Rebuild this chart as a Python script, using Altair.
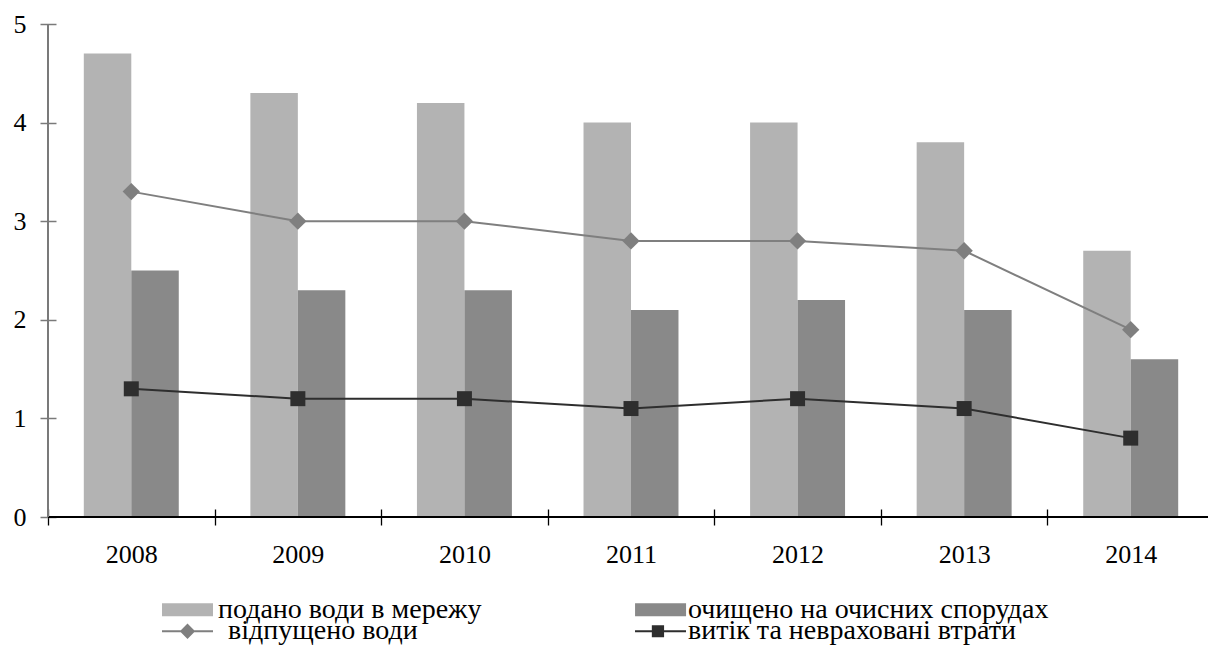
import altair as alt
import pandas as pd

years = ["2008", "2009", "2010", "2011", "2012", "2013", "2014"]

supplied = [4.7, 4.3, 4.2, 4.0, 4.0, 3.8, 2.7]
treated = [2.5, 2.3, 2.3, 2.1, 2.2, 2.1, 1.6]
released = [3.3, 3.0, 3.0, 2.8, 2.8, 2.7, 1.9]
losses = [1.3, 1.2, 1.2, 1.1, 1.2, 1.1, 0.8]

S_SUPPLIED = "подано води в мережу"
S_TREATED = "очищено на очисних спорудах"
S_RELEASED = "відпущено води"
S_LOSSES = "витік та невраховані втрати"

C_SUPPLIED = "#b3b3b3"
C_TREATED = "#898989"
C_RELEASED = "#7f7f7f"
C_LOSSES = "#2e2e2e"

bar_series = [S_SUPPLIED, S_TREATED]
line_series = [S_RELEASED, S_LOSSES]

rows = []
for name, vals in [(S_SUPPLIED, supplied), (S_TREATED, treated),
                   (S_RELEASED, released), (S_LOSSES, losses)]:
    for y, v in zip(years, vals):
        rows.append({"year": y, "series": name, "value": v})
df = pd.DataFrame(rows)

FONT = "Liberation Serif, Times New Roman, serif"
W, H = 1160, 493
STEP_RANGE = 1166

x_scale = alt.Scale(domain=years, range=[0, STEP_RANGE], paddingInner=0, paddingOuter=0)
y_scale = alt.Scale(domain=[0, 5], nice=False)

x_axis = alt.Axis(title=None, labelAngle=0, tickBand="extent", domain=False,
                  offset=-8, tickSize=16, tickColor="#000000", tickWidth=1.3,
                  labelFont=FONT, labelFontSize=26, labelColor="#000000",
                  labelPadding=16, grid=False)
y_axis = alt.Axis(title=None, values=[0, 1, 2, 3, 4, 5], format="d", domain=False,
                  offset=-8, tickSize=16, tickColor="#7a7a7a", tickWidth=1.5,
                  labelFont=FONT, labelFontSize=26, labelColor="#000000",
                  labelPadding=14, grid=False)

LEGEND_X = 114
legend_common = dict(
    title=None, orient="none", direction="horizontal", legendX=LEGEND_X,
    symbolSize=2601, labelLimit=0, symbolStrokeWidth=0,
    labelFont=FONT, labelFontSize=28, labelColor="#000000",
)

# first legend row: wide swatches for the bar series
bar_shape_expr = ("datum.index == 0 ? 'M-1,-0.255H1V0.255H-1Z' : "
                  "'M-0.88,-0.255H1.12V0.255H-0.88Z'")
bar_legend = alt.Legend(
    legendY=560, columnPadding=150, labelOffset=5,
    symbolType=alt.ExprRef(expr=bar_shape_expr),
    **legend_common,
)

# second legend row: line segment with its marker for the line series
line_shape_expr = ("datum.index == 0 ? 'M-1,-0.04H1V0.04H-1ZM-0.3,0L0,-0.3L0.3,0L0,0.3Z' : "
                   "'M-0.49,-0.04H1.51V0.04H-0.49ZM0.17,-0.24H0.65V0.24H0.17Z'")
line_legend = alt.Legend(
    legendY=581.5, columnPadding=204, labelOffset=15,
    symbolType=alt.ExprRef(expr=line_shape_expr),
    **legend_common,
)

xs = alt.X("year:N", scale=x_scale, axis=x_axis, sort=years)
ys = alt.Y("value:Q", scale=y_scale, axis=y_axis)

bars = alt.Chart(df).transform_filter(
    alt.FieldOneOfPredicate(field="series", oneOf=bar_series)
).mark_bar().encode(
    x=xs,
    xOffset=alt.XOffset("series:N", sort=bar_series,
                        scale=alt.Scale(domain=bar_series, paddingInner=0, paddingOuter=0.754)),
    y=ys,
    fill=alt.Fill("series:N", scale=alt.Scale(domain=bar_series, range=[C_SUPPLIED, C_TREATED]),
                  legend=bar_legend),
)

# legend carrier for the line series: draws no marks itself
line_legend_layer = alt.Chart(df).transform_filter("false").mark_point(
    filled=True, opacity=1).encode(
    x=xs, y=ys,
    color=alt.Color("series:N", scale=alt.Scale(domain=line_series, range=[C_RELEASED, C_LOSSES]),
                    legend=line_legend),
)

y_line = alt.Chart(df).mark_rule(color="#7a7a7a", strokeWidth=1.6).encode(x=alt.value(0))
x_line = alt.Chart(df).mark_rule(color="#000000", strokeWidth=1.3).encode(y=alt.datum(0))

released_df = df[df.series == S_RELEASED]
losses_df = df[df.series == S_LOSSES]

released_line = alt.Chart(released_df).mark_line(strokeWidth=2, color=C_RELEASED).encode(
    x=xs, y=ys)
released_pts = alt.Chart(released_df).mark_point(
    shape="diamond", filled=True, size=300, opacity=1, color=C_RELEASED).encode(x=xs, y=ys)

losses_line = alt.Chart(losses_df).mark_line(strokeWidth=2, color=C_LOSSES).encode(
    x=xs, y=ys)
losses_pts = alt.Chart(losses_df).mark_point(
    shape="square", filled=True, size=225, opacity=1, color=C_LOSSES).encode(x=xs, y=ys)

chart = alt.layer(
    bars, released_line, released_pts, losses_line, losses_pts, x_line, y_line,
    line_legend_layer,
).properties(
    width=W, height=H,
    background="#ffffff",
    autosize=alt.AutoSizeParams(type="none"),
    padding={"left": 48, "top": 24, "right": 0, "bottom": 133},
).configure_view(stroke="transparent", strokeWidth=0)

chart.save("out.html", embed_options={"renderer": "svg", "actions": False})
